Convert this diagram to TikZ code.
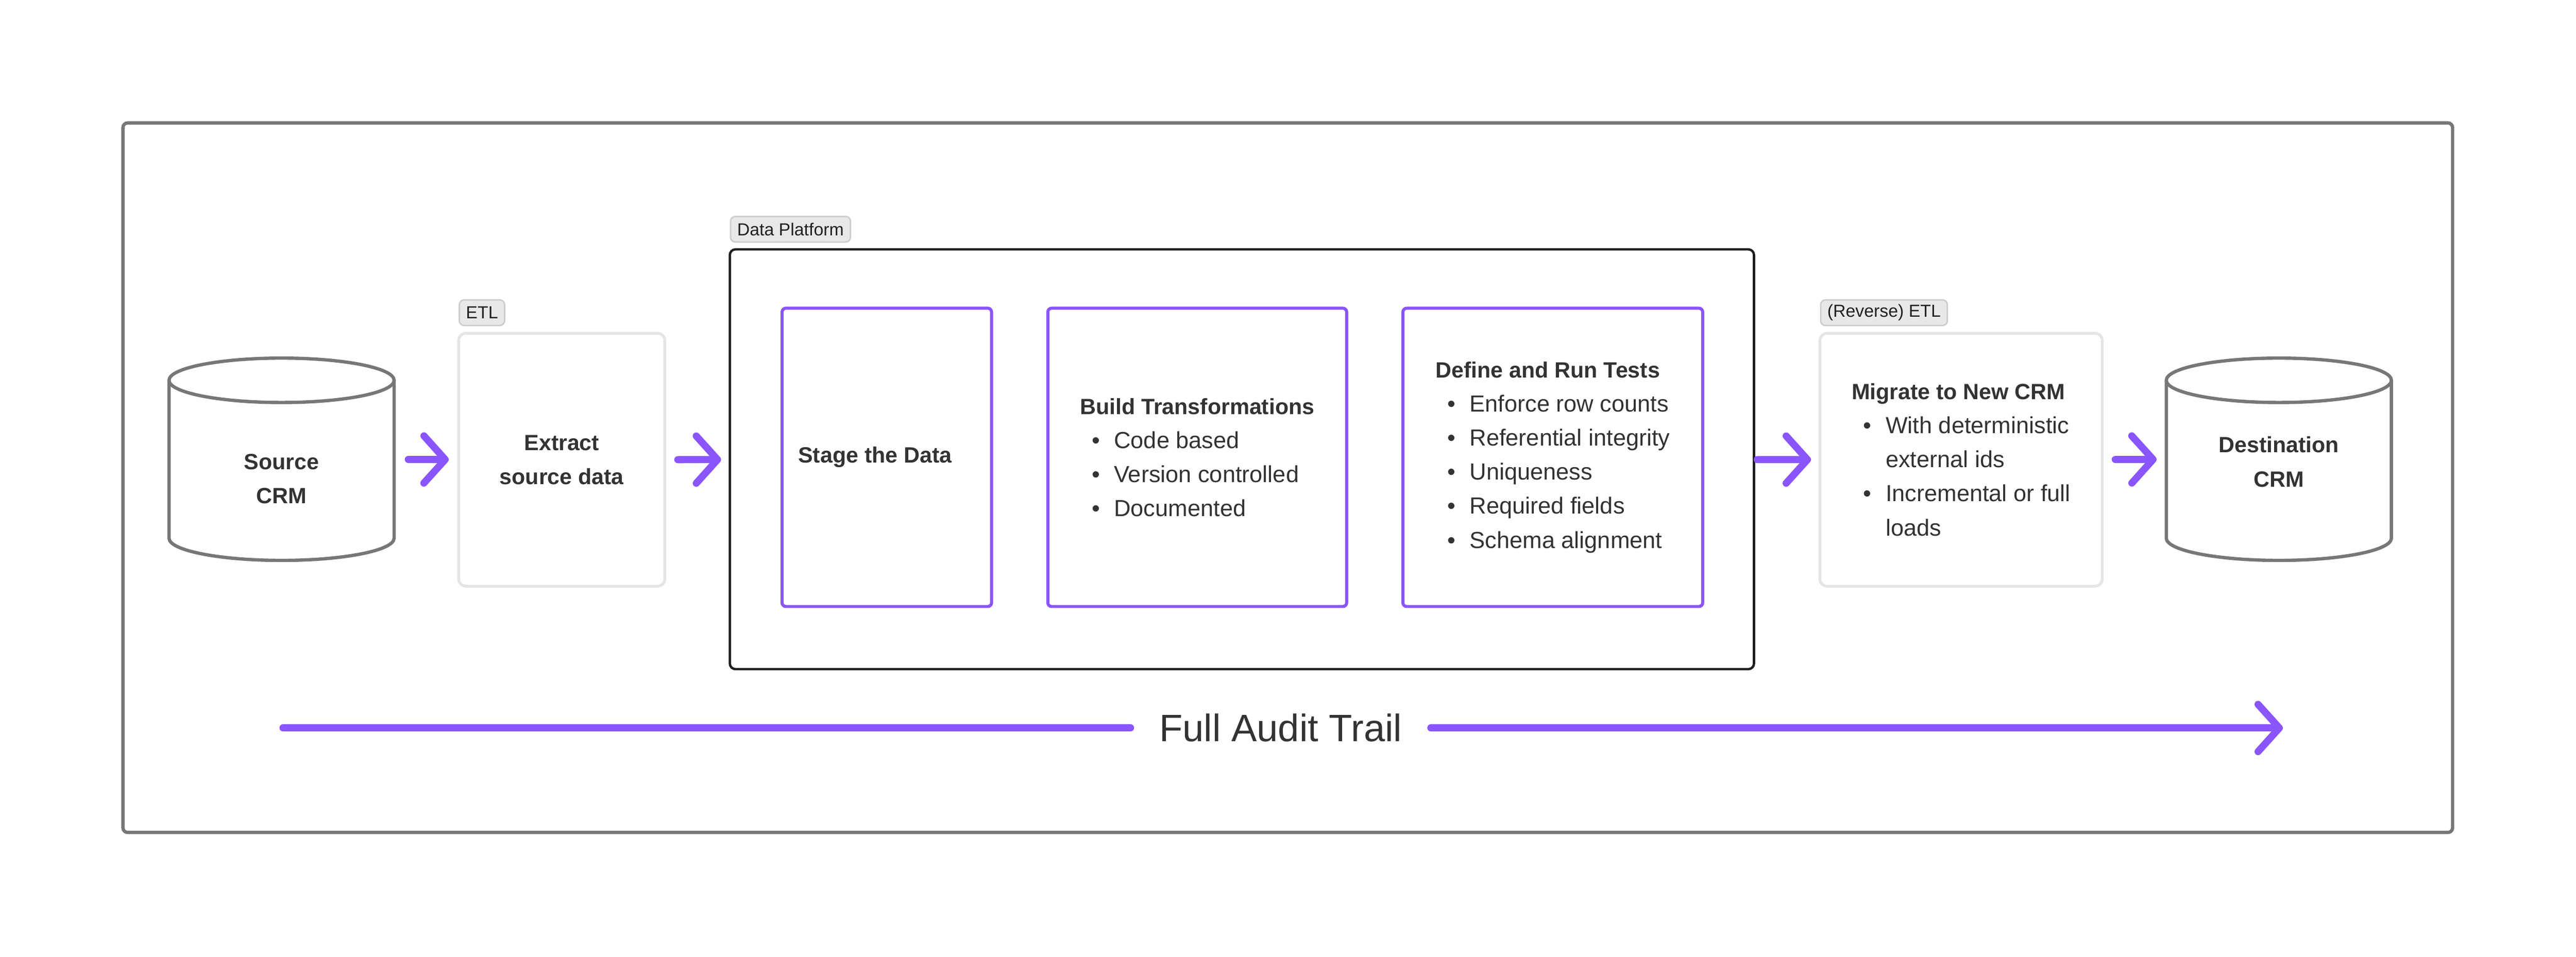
\documentclass[tikz,border=0pt]{standalone}
\usepackage{fontspec}
\setmainfont{Liberation Sans}
\usetikzlibrary{positioning,arrows.meta}
\definecolor{flowpurple}{HTML}{8A55FD}
\definecolor{dbgray}{HTML}{777777}
\definecolor{inkgray}{HTML}{333333}
\tikzset{flow-arrow/.style={-{Straight Barb[length=0.45cm, width=1.0cm, round]}, draw=flowpurple, line width=0.15cm, line cap=round}}
\tikzset{trail-line/.style={draw=flowpurple, line width=0.15cm, line cap=round}}
\tikzset{db-line/.style={draw=dbgray, line width=0.07cm}}
\tikzset{db-body/.style={outer sep=0pt, minimum width=4.76cm, minimum height=4.28cm}}
\tikzset{db-text/.style={align=center, text=inkgray, font=\fontsize{13.3}{20.5}\selectfont\bfseries}}
\tikzset{etl-box/.style={draw=black!10, line width=0.06cm, rounded corners=0.15cm, outer sep=0pt, align=left, text=inkgray, font=\fontsize{14}{20.5}\selectfont}}
\tikzset{step-box/.style={draw=flowpurple, line width=0.065cm, rounded corners=0.08cm, outer sep=0pt, align=left, text=inkgray, font=\fontsize{14}{20.5}\selectfont}}
\tikzset{platform-box/.style={draw=black!88, line width=0.05cm, rounded corners=0.12cm, outer sep=0pt}}
\tikzset{tag-label/.style={fill=black!9, draw=black!20, line width=0.03cm, rounded corners=0.1cm, minimum height=0.54cm, inner xsep=0.14cm, inner ysep=0pt, text=black!87, font=\fontsize{10.5}{12}\selectfont}}
\newcommand{\bitem}[1]{\hspace*{0.25cm}\makebox[0.47cm][l]{\textbullet}#1}
\newcommand{\bcont}[1]{\hspace*{0.72cm}#1}
\newcommand{\boldhead}[1]{{\fontsize{13.3}{20.5}\selectfont\bfseries #1}}
\newcommand{\crmcyl}[1]{%
  \draw[db-line] ([yshift=-0.47cm]#1.north) ellipse [x radius=2.38cm, y radius=0.47cm];
  \draw[db-line] ([yshift=-0.47cm]#1.north west) -- ([yshift=0.47cm]#1.south west)
    arc [start angle=180, end angle=360, x radius=2.38cm, y radius=0.47cm]
    -- ([yshift=-0.47cm]#1.north east);}

\begin{document}
\begin{tikzpicture}
      \useasboundingbox (0,0) rectangle (54.48,-20.24);
      \draw[draw=dbgray, line width=0.07cm, rounded corners=0.1cm] (2.60,-2.60) rectangle (51.87,-17.61);

      \node[db-body] (source) at (5.955, -9.715) {};
      \node[db-text] (sourcetxt) at (5.955, -10.13) {Source\\CRM};
      \crmcyl{source}

      \node[etl-box, minimum width=4.36cm, minimum height=5.35cm, align=center] (extract) at (11.88, -9.725) {\boldhead{Extract}\\\boldhead{source data}};
      \node[tag-label, above right=0.15cm and 0cm of extract.north west] (etltag) {ETL};

      \node[platform-box, minimum width=21.66cm, minimum height=8.88cm] (platform) at (26.265, -9.715) {};
      \node[tag-label, above right=0.14cm and 0cm of platform.north west] (platformtag) {Data Platform};

      \node[step-box, minimum width=4.43cm, minimum height=6.31cm] (stage) at (18.755, -9.675) {\boldhead{Stage the Data}\hspace*{0.5cm}};
      \node[step-box, minimum width=6.32cm, minimum height=6.31cm] (build) at (25.32, -9.675)
        {\boldhead{Build Transformations}\\\bitem{Code based}\\\bitem{Version controlled}\\\bitem{Documented}};
      \node[step-box, minimum width=6.34cm, minimum height=6.31cm] (tests) at (32.84, -9.675)
        {\boldhead{Define and Run Tests}\\\bitem{Enforce row counts}\\\bitem{Referential integrity}\\\bitem{Uniqueness}\\\bitem{Required fields}\\\bitem{Schema alignment}};

      \node[etl-box, minimum width=5.97cm, minimum height=5.35cm] (migrate) at (41.475, -9.725)
        {\boldhead{Migrate to New CRM}\\\bitem{With deterministic}\\\bcont{external ids}\\\bitem{Incremental or full}\\\bcont{loads}};
      \node[tag-label, above right=0.15cm and 0cm of migrate.north west] (reversetag) {(Reverse) ETL};

      \node[db-body] (dest) at (48.195, -9.715) {};
      \node[db-text] (desttxt) at (48.195, -9.77) {Destination\\CRM};
      \crmcyl{dest}

      \draw[flow-arrow, shorten <=0.30cm, shorten >=0.21cm] (source) -- (extract);
      \draw[flow-arrow, shorten <=0.275cm, shorten >=0.185cm] (extract) -- (platform);
      \draw[flow-arrow, shorten <=0.07cm, shorten >=0.19cm] (platform) -- (migrate);
      \draw[flow-arrow, shorten <=0.275cm, shorten >=0.205cm] (migrate) -- (dest);

      \coordinate (trailstart) at (5.985, -15.40);
      \coordinate (trailend) at (48.28, -15.40);
      \node[text=inkgray, inner xsep=0.6cm, font=\fontsize{23}{27}\selectfont] (audit) at (27.085, -15.40) {Full Audit Trail};
      \draw[trail-line] (trailstart) -- (audit);
      \draw[flow-arrow] (audit) -- (trailend);

    \end{tikzpicture}
\end{document}
